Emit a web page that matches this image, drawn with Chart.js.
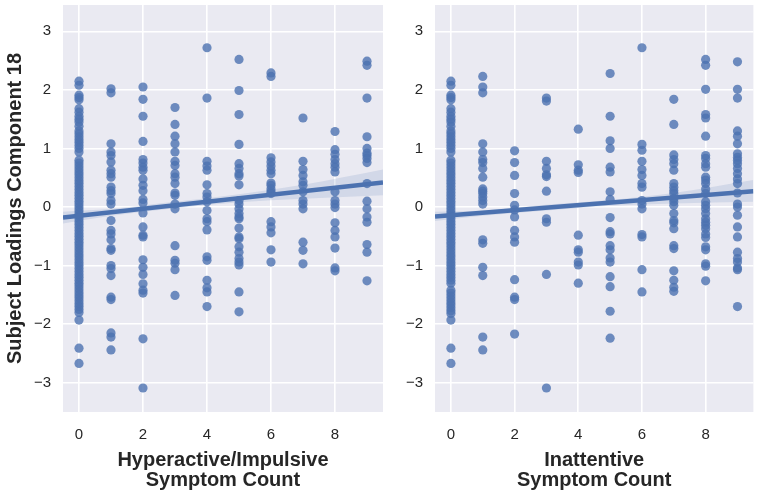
<!DOCTYPE html>
<html>
<head>
<meta charset="utf-8">
<script src="https://cdn.jsdelivr.net/npm/chart.js@4/dist/chart.umd.min.js"></script>
<style>
  body { margin: 0; background: #fff; }
  #wrap { position: relative; width: 758px; height: 493px; }
  canvas { position: absolute; top: 0; }
</style>
</head>
<body>
<div id="wrap">
  <canvas id="hypChart" width="390" height="493" style="left:0"></canvas>
  <canvas id="inaChart" width="368" height="493" style="left:390px"></canvas>
</div>
<script>
// Symptom counts on the x axis (one column of subjects per count)
const symptomCounts = [0, 1, 2, 3, 4, 5, 6, 7, 8, 9];
const xTicks = [0, 2, 4, 6, 8];
const yTicks = [-3, -2, -1, 0, 1, 2, 3];

// Subject loadings, component 18, grouped by hyperactive/impulsive count
const hypLoadings = [
    [2.15, 2.08, 1.91, 1.87, 1.83, 1.68, 1.62, 1.55, 1.5, 1.45, 1.38, 1.3, 1.25, 1.2, 1.15, 1.1, 1.05, 1.0, 0.94,
     0.8, 0.75, 0.7, 0.65, 0.6, 0.55, 0.5, 0.45, 0.4, 0.35, 0.3, 0.25, 0.2, 0.15, 0.1, 0.05, 0.0, -0.05, -0.1,
     -0.15, -0.2, -0.25, -0.3, -0.35, -0.4, -0.45, -0.5, -0.55, -0.6, -0.65, -0.7, -0.75, -0.8, -0.85, -0.9,
     -0.95, -1.0, -1.05, -1.1, -1.15, -1.2, -1.25, -1.3, -1.35, -1.4, -1.45, -1.5, -1.55, -1.6, -1.65, -1.7,
     -1.75, -1.8, -1.93, -2.41, -2.67],
    [2.02, 1.95, 1.08, 0.94, 0.88, 0.77, 0.63, 0.57, 0.51, 0.34, 0.28, 0.23, 0.11, 0.05, -0.23, -0.4, -0.46,
     -0.56, -0.71, -0.74, -1.0, -1.05, -1.17, -1.54, -1.58, -2.15, -2.22, -2.44],
    [2.05, 1.84, 1.55, 1.12, 0.81, 0.75, 0.68, 0.63, 0.48, 0.37, 0.28, 0.13, 0.07, -0.1, -0.34, -0.48, -0.51,
     -0.9, -1.03, -1.15, -1.31, -1.42, -1.47, -2.25, -3.09],
    [1.7, 1.41, 1.21, 1.08, 0.94, 0.78, 0.71, 0.57, 0.51, 0.4, 0.24, 0.2, 0.05, -0.03, -0.66, -0.91, -0.96,
     -1.07, -1.51],
    [2.72, 1.86, 0.78, 0.7, 0.63, 0.38, 0.23, 0.17, 0.09, -0.06, -0.2, -0.25, -0.39, -0.85, -0.91, -1.25,
     -1.38, -1.45, -1.7],
    [2.52, 1.99, 1.58, 1.07, 0.74, 0.66, 0.57, 0.53, 0.38, 0.11, 0.05, -0.03, -0.11, -0.17, -0.2, -0.36, -0.51,
     -0.54, -0.68, -0.77, -0.88, -0.94, -0.99, -1.45, -1.79],
    [2.29, 2.23, 0.84, 0.77, 0.7, 0.63, 0.57, 0.41, 0.37, 0.31, 0.26, 0.23, -0.25, -0.34, -0.44, -0.73, -0.94],
    [1.52, 0.78, 0.64, 0.54, 0.43, 0.37, 0.26, 0.11, 0.05, -0.03, -0.6, -0.74, -0.97],
    [1.29, 0.98, 0.9, 0.81, 0.74, 0.68, 0.6, 0.26, 0.11, 0.05, -0.01, -0.27, -0.4, -0.51, -0.7, -1.04, -1.09],
    [2.49, 2.42, 1.86, 1.2, 1.0, 0.92, 0.88, 0.83, 0.76, 0.4, 0.1, -0.03, -0.17, -0.26, -0.64, -0.77, -1.26]
];

// Same loadings grouped by inattentive count
const inaLoadings = [
    [2.15, 2.08, 1.91, 1.87, 1.83, 1.68, 1.62, 1.55, 1.5, 1.45, 1.38, 1.3, 1.25, 1.2, 1.15, 1.1, 1.05, 1.0, 0.94,
     0.8, 0.75, 0.7, 0.65, 0.6, 0.55, 0.5, 0.45, 0.4, 0.35, 0.3, 0.25, 0.2, 0.15, 0.1, 0.05, 0.0, -0.05, -0.1,
     -0.15, -0.2, -0.25, -0.3, -0.35, -0.4, -0.45, -0.5, -0.55, -0.6, -0.65, -0.7, -0.75, -0.8, -0.85, -0.9,
     -0.95, -1.0, -1.05, -1.1, -1.15, -1.2, -1.25, -1.3, -1.42, -1.47, -1.52, -1.57, -1.62, -1.67, -1.72,
     -1.77, -1.82, -1.93, -2.41, -2.67],
    [2.23, 2.05, 1.95, 1.08, 0.94, 0.81, 0.76, 0.66, 0.51, 0.31, 0.27, 0.23, 0.17, 0.11, 0.05, -0.56, -0.62,
     -1.03, -1.17, -2.22, -2.44],
    [0.96, 0.76, 0.54, 0.23, 0.03, -0.05, -0.17, -0.4, -0.51, -0.6, -1.24, -1.54, -1.58, -2.17],
    [1.86, 1.81, 0.78, 0.66, 0.55, 0.52, 0.27, -0.2, -0.26, -1.15, -3.09],
    [1.33, 0.72, 0.63, 0.59, -0.48, -0.73, -0.77, -0.94, -0.99, -1.3],
    [2.28, 1.55, 1.13, 1.0, 0.68, 0.6, 0.26, 0.13, -0.18, -0.42, -0.46, -0.66, -0.73, -0.87, -0.94, -1.19,
     -1.36, -1.78, -2.24],
    [2.72, 1.07, 0.97, 0.78, 0.64, 0.54, 0.4, 0.34, 0.11, 0.05, -0.03, -0.47, -0.51, -1.07, -1.45],
    [1.84, 1.41, 0.89, 0.81, 0.74, 0.63, 0.4, 0.34, 0.28, 0.23, 0.14, 0.09, 0.03, -0.11, -0.23, -0.27, -0.37,
     -0.66, -0.71, -1.09, -1.25, -1.37, -1.44],
    [2.52, 2.42, 2.01, 1.58, 1.52, 1.21, 0.88, 0.83, 0.74, 0.68, 0.51, 0.46, 0.4, 0.31, 0.23, 0.09, 0.03, -0.03,
     -0.11, -0.2, -0.26, -0.31, -0.37, -0.46, -0.52, -0.68, -0.73, -0.97, -1.01, -1.26],
    [2.48, 2.01, 1.86, 1.3, 1.21, 1.08, 0.91, 0.85, 0.8, 0.74, 0.66, 0.57, 0.48, 0.4, 0.24, 0.05, 0.0, -0.14,
     -0.34, -0.51, -0.77, -0.88, -0.94, -1.04, -1.07, -1.7]
];

// Regression fit and 95% CI band
const fitX = [-0.5, 9.5];
const hypFitY = [-0.18, 0.42];
const inaFitY = [-0.16, 0.27];
const bandX = [-0.5, 1, 3, 5, 7, 9.5];
const hypBandLow = [-0.28, -0.15, -0.02, 0.08, 0.14, 0.20];
const hypBandHigh = [-0.08, -0.03, 0.09, 0.22, 0.38, 0.64];
const inaBandLow = [-0.24, -0.15, -0.06, 0.02, 0.06, 0.09];
const inaBandHigh = [-0.08, -0.06, 0.04, 0.12, 0.24, 0.46];

const BLUE = '#4C72B0';
const TEXT = '#262626';
Chart.defaults.font.family = '"Liberation Sans", Arial, sans-serif';

// Grey seaborn-style panel background
const panelBg = {
    id: 'panelBg',
    beforeDraw(chart) {
        const { ctx, chartArea: a } = chart;
        ctx.save();
        ctx.fillStyle = '#EAEAF2';
        ctx.fillRect(a.left, a.top, a.right - a.left, a.bottom - a.top);
        ctx.restore();
    }
};

const pairs = (xs, ys) => xs.map((x, i) => ({ x: x, y: ys[i] }));
const minusSign = v => (v < 0 ? '\u2212' + Math.abs(v) : '' + v);

function createPanel(id, loadings, fitY, bandLow, bandHigh, xTitle, yTitle, yWidth, padRight) {
    const points = [];
    loadings.forEach((col, i) => col.forEach(v => points.push({ x: symptomCounts[i], y: v })));

    return new Chart(document.getElementById(id), {
        type: 'scatter',
        data: {
            datasets: [
                {
                    type: 'line',
                    data: pairs(fitX, fitY),
                    borderColor: BLUE,
                    borderWidth: 4.5,
                    pointRadius: 0,
                    order: 0
                },
                {
                    type: 'line',
                    data: pairs(bandX, bandLow),
                    borderWidth: 0,
                    pointRadius: 0,
                    cubicInterpolationMode: 'monotone',
                    fill: false,
                    order: 1
                },
                {
                    type: 'line',
                    data: pairs(bandX, bandHigh),
                    borderWidth: 0,
                    pointRadius: 0,
                    cubicInterpolationMode: 'monotone',
                    backgroundColor: 'rgba(76, 114, 176, 0.15)',
                    fill: '-1',
                    order: 1
                },
                {
                    data: points,
                    backgroundColor: 'rgba(76, 114, 176, 0.8)',
                    borderWidth: 0,
                    pointRadius: 4.6,
                    order: 2
                }
            ]
        },
        options: {
            responsive: false,
            animation: false,
            devicePixelRatio: 1,
            layout: { padding: { top: 5, right: padRight, bottom: 0, left: 0 } },
            plugins: { legend: { display: false }, tooltip: { enabled: false } },
            scales: {
                x: {
                    type: 'linear',
                    min: -0.5,
                    max: 9.5,
                    afterBuildTicks: s => { s.ticks = xTicks.map(v => ({ value: v })); },
                    afterFit: s => { s.height = 81; s.paddingLeft = 0; s.paddingRight = 0; },
                    grid: { color: '#ffffff', lineWidth: 1.6, drawTicks: false },
                    border: { display: false },
                    ticks: { color: TEXT, font: { size: 15 }, padding: 14 },
                    title: {
                        display: true,
                        text: xTitle,
                        color: TEXT,
                        font: { size: 20, weight: 'bold', lineHeight: 1.0 },
                        padding: { top: 0, bottom: 3 }
                    }
                },
                y: {
                    min: -3.5,
                    max: 3.45,
                    afterBuildTicks: s => { s.ticks = yTicks.map(v => ({ value: v })); },
                    afterFit: s => { s.width = yWidth; s.paddingTop = 0; s.paddingBottom = 0; },
                    grid: { color: '#ffffff', lineWidth: 1.6, drawTicks: false },
                    border: { display: false },
                    ticks: { color: TEXT, font: { size: 15 }, padding: 12, callback: v => minusSign(v) },
                    title: {
                        display: !!yTitle,
                        text: yTitle,
                        color: TEXT,
                        font: { size: 20, weight: 'bold', lineHeight: 1.0 },
                        padding: { top: 5, bottom: 0 }
                    }
                }
            }
        },
        plugins: [panelBg]
    });
}

createPanel('hypChart', hypLoadings, hypFitY, hypBandLow, hypBandHigh,
    ['Hyperactive/Impulsive', 'Symptom Count'], 'Subject Loadings Component 18', 63, 7);
createPanel('inaChart', inaLoadings, inaFitY, inaBandLow, inaBandHigh,
    ['Inattentive', 'Symptom Count'], '', 45, 3);
</script>
</body>
</html>
